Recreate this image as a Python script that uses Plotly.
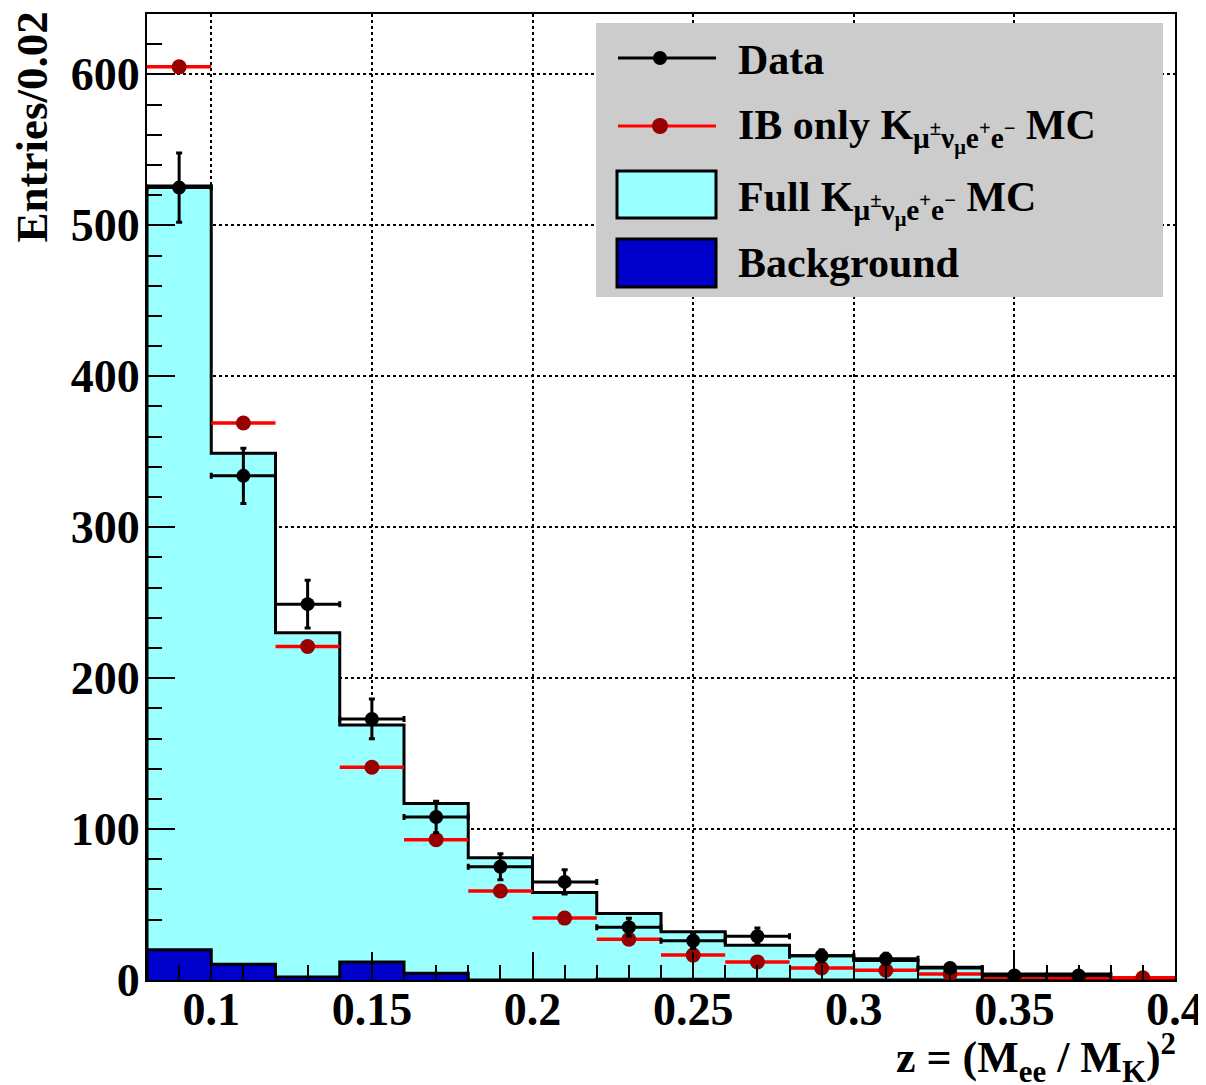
import numpy as np
import plotly.graph_objects as go

# ---------------- data ----------------
bin_edges = [0.08, 0.10, 0.12, 0.14, 0.16, 0.18, 0.20, 0.22, 0.24, 0.26, 0.28,
             0.30, 0.32, 0.34, 0.36, 0.38, 0.40]
data_counts = [525, 334, 249, 173, 108, 75, 65, 35, 26, 29, 16, 14, 8, 3, 3, None]
ib_only_mc = [605, 369, 221, 141, 93, 59, 41, 27, 16.5, 12, 8, 6.5, 4, 2, 1.5, 1.5]
full_mc = [526, 349, 230, 169, 117, 81, 58, 44, 32, 23, 16, 13, 8.5, 4, 4, 1]
background = [20, 10.5, 2, 12, 4.5, 0, 0, 0.5, 0.5, 0.5, 0, 0, 0, 0, 0, 0]

x_ticks = [0.1, 0.15, 0.2, 0.25, 0.3, 0.35, 0.4]
x_tick_labels = ["0.1", "0.15", "0.2", "0.25", "0.3", "0.35", "0.4"]
y_ticks = [0, 100, 200, 300, 400, 500, 600]
y_tick_labels = ["0", "100", "200", "300", "400", "500", "600"]

# ---------------- derived ----------------
edges = np.array(bin_edges)
centers = (edges[:-1] + edges[1:]) / 2
half_w = (edges[1:] - edges[:-1]) / 2


def step_xy(vals):
    xs = [edges[0]] + list(edges[:-1]) + [edges[-1], edges[-1]]
    ys = [0] + list(vals) + [vals[-1], 0]
    return xs, ys


FONT = "Liberation Serif"
OFF = 8  # page body margin in the browser
W, H = 1206 - OFF, 1085 - OFF
L, R, T, B = 147, 1175, 14, 980  # plot frame in screenshot pixels


def px(x):
    return (x - L) / (R - L)


def py(y):
    return (B - y) / (B - T)


fig = go.Figure()

fx, fy = step_xy(full_mc)
fig.add_trace(go.Scatter(x=fx, y=fy, mode="lines", line=dict(shape="hv", color="black", width=3),
                         fill="tozeroy", fillcolor="#99ffff", showlegend=False, hoverinfo="skip"))
bx, by = step_xy(background)
fig.add_trace(go.Scatter(x=bx, y=by, mode="lines", line=dict(shape="hv", color="black", width=3),
                         fill="tozeroy", fillcolor="#0000cc", showlegend=False, hoverinfo="skip"))

fig.add_trace(go.Scatter(x=centers, y=ib_only_mc, mode="markers",
                         marker=dict(color="#990000", size=15, symbol="circle"),
                         error_x=dict(type="data", array=half_w, color="#ff0000", thickness=3.5, width=0),
                         showlegend=False))

dmask = [v is not None for v in data_counts]
dx = [c for c, m in zip(centers, dmask) if m]
dy = [v for v in data_counts if v is not None]
dxe = [h for h, m in zip(half_w, dmask) if m]
dye = [np.sqrt(v) for v in dy]
fig.add_trace(go.Scatter(x=dx, y=dy, mode="markers",
                         marker=dict(color="black", size=14, symbol="circle"),
                         error_x=dict(type="data", array=dxe, color="black", thickness=3, width=3),
                         error_y=dict(type="data", array=dye, color="black", thickness=3, width=3),
                         showlegend=False))

axis_common = dict(showline=True, linecolor="black", linewidth=2, mirror=True,
                   ticks="inside", tickcolor="black", tickwidth=2, ticklen=28,
                   showgrid=True, gridcolor="black", gridwidth=1.5, griddash="dot",
                   zeroline=False,
                   tickfont=dict(family=FONT, size=46, color="black", weight="bold"))

fig.update_xaxes(range=[0.08, 0.40], tickvals=x_ticks, ticktext=x_tick_labels,
                 ticklabelstandoff=-12,
                 minor=dict(dtick=0.01, tick0=0.0, ticks="inside", ticklen=15, tickwidth=2,
                            tickcolor="black", showgrid=False),
                 **axis_common)
fig.update_yaxes(range=[0, 640], tickvals=y_ticks, ticktext=y_tick_labels,
                 ticklabelstandoff=-4,
                 minor=dict(dtick=20, tick0=0, ticks="inside", ticklen=15, tickwidth=2,
                            tickcolor="black", showgrid=False),
                 **axis_common)

shapes = []
# legend box
shapes.append(dict(type="rect", xref="paper", yref="paper", x0=px(596), x1=px(1163), y0=py(297), y1=py(23),
                   fillcolor="#cccccc", line=dict(width=0), layer="above"))
# Data entry
shapes.append(dict(type="line", xref="paper", yref="paper", x0=px(618), x1=px(716), y0=py(58), y1=py(58),
                   line=dict(color="black", width=3), layer="above"))
shapes.append(dict(type="circle", xref="paper", yref="paper", x0=px(653), x1=px(667), y0=py(65), y1=py(51),
                   fillcolor="black", line=dict(width=0), layer="above"))
# IB entry
shapes.append(dict(type="line", xref="paper", yref="paper", x0=px(618), x1=px(716), y0=py(126), y1=py(126),
                   line=dict(color="#ff0000", width=3), layer="above"))
shapes.append(dict(type="circle", xref="paper", yref="paper", x0=px(652), x1=px(668), y0=py(134), y1=py(118),
                   fillcolor="#990000", line=dict(width=0), layer="above"))
# Full MC box
shapes.append(dict(type="rect", xref="paper", yref="paper", x0=px(617), x1=px(716), y0=py(218), y1=py(171),
                   fillcolor="#99ffff", line=dict(color="black", width=3), layer="above"))
# Background box
shapes.append(dict(type="rect", xref="paper", yref="paper", x0=px(617), x1=px(716), y0=py(287), y1=py(239),
                   fillcolor="#0000cc", line=dict(color="black", width=3), layer="above"))

lf = dict(family=FONT, size=42, color="black", weight="bold")
annotations = [
    dict(text="Data", x=px(736), y=py(60), xref="paper", yref="paper", xanchor="left", yanchor="middle",
         showarrow=False, font=lf),
    dict(text="IB only K<sub>μ<sup>±</sup>ν<sub>μ</sub>e<sup>+</sup>e<sup>−</sup></sub> MC", x=px(736), y=py(131),
         xref="paper", yref="paper", xanchor="left", yanchor="middle", showarrow=False, font=lf),
    dict(text="Full K<sub>μ<sup>±</sup>ν<sub>μ</sub>e<sup>+</sup>e<sup>−</sup></sub> MC", x=px(736), y=py(203),
         xref="paper", yref="paper", xanchor="left", yanchor="middle", showarrow=False, font=lf),
    dict(text="Background", x=px(736), y=py(263), xref="paper", yref="paper", xanchor="left", yanchor="middle",
         showarrow=False, font=lf),
    dict(text="Entries/0.02", x=px(32), y=py(10), xref="paper", yref="paper", xanchor="center", yanchor="top",
         textangle=-90, showarrow=False, font=dict(family=FONT, size=45, color="black", weight="bold")),
    dict(text="z = (M<sub>ee</sub> / M<sub>K</sub>)<sup>2</sup>", x=px(1178), y=py(1058), xref="paper",
         yref="paper", xanchor="right", yanchor="middle", showarrow=False,
         font=dict(family=FONT, size=44, color="black", weight="bold")),
]

fig.update_layout(width=W, height=H,
                  margin=dict(l=L - OFF, r=W - (R - OFF), t=T - OFF, b=H - (B - OFF), autoexpand=False),
                  plot_bgcolor="white", paper_bgcolor="white", showlegend=False,
                  shapes=shapes, annotations=annotations)

fig.write_html("out.html")
